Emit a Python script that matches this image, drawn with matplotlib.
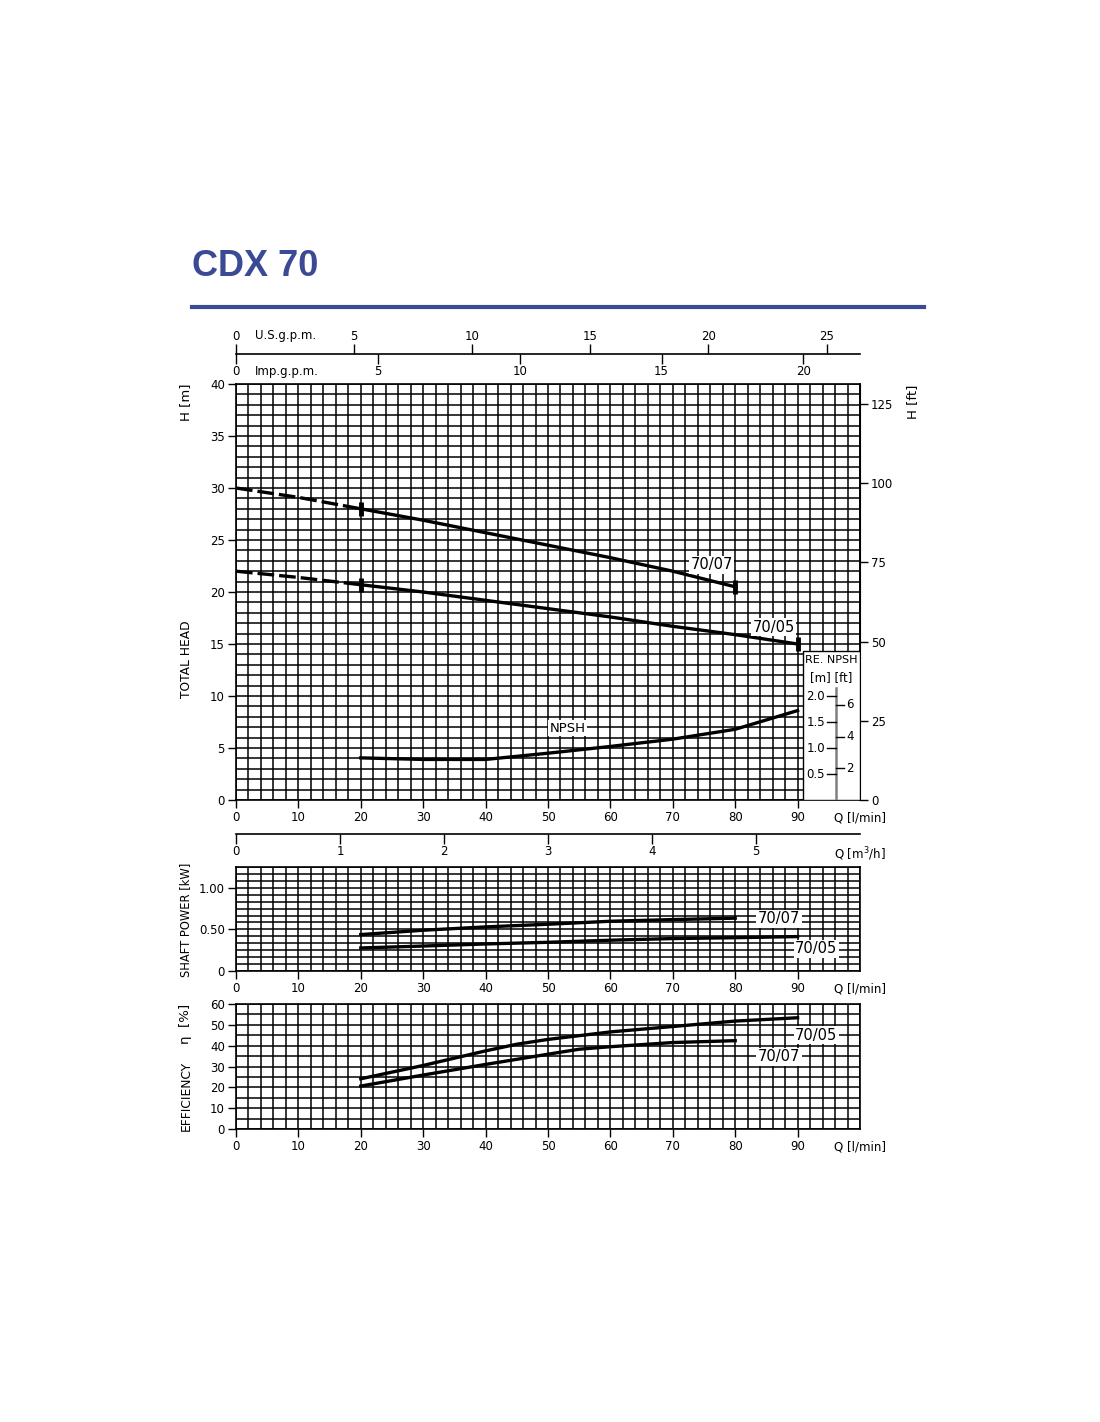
import numpy as np
import matplotlib
matplotlib.use('Agg')
import matplotlib.pyplot as plt
from matplotlib.patches import Rectangle
from matplotlib.lines import Line2D

plt.rcParams['font.family'] = ['Liberation Sans Narrow', 'DejaVu Sans']

# ---- data (Q in l/min) ----
q_h05 = [0, 10, 20, 30, 40, 50, 60, 70, 80, 90]
h_7005 = [22.0, 21.4, 20.7, 20.0, 19.2, 18.4, 17.6, 16.7, 15.9, 15.0]
q_h07 = [0, 10, 20, 30, 40, 50, 60, 70, 80]
h_7007 = [30.0, 29.1, 28.0, 26.9, 25.7, 24.5, 23.3, 22.0, 20.5]

q_npsh = [20, 30, 40, 50, 60, 70, 80, 90]
npsh = [0.81, 0.78, 0.78, 0.90, 1.03, 1.17, 1.36, 1.72]  # [m]

q_p05 = [20, 30, 40, 50, 60, 70, 80, 90]
p_7005 = [0.277, 0.30, 0.325, 0.345, 0.37, 0.39, 0.40, 0.414]
q_p07 = [20, 30, 40, 50, 60, 70, 80]
p_7007 = [0.438, 0.49, 0.53, 0.562, 0.598, 0.618, 0.635]

q_e05 = [20, 30, 40, 45, 50, 60, 70, 80, 90]
eff_7005 = [24.1, 30.5, 37.5, 40.7, 43.0, 46.6, 49.2, 51.8, 53.4]
q_e07 = [20, 30, 40, 50, 55, 60, 70, 80]
eff_7007 = [20.6, 25.9, 31.0, 35.9, 38.3, 39.5, 41.5, 42.4]

usgpm_ticks = [0, 5, 10, 15, 20, 25]
impgpm_ticks = [0, 5, 10, 15, 20]
m3h_ticks = [0, 1, 2, 3, 4, 5]

W, H = 1100, 1422
BLUE = '#3b4a94'
LW = 2.4
LPM_PER_USG = 3.78541
LPM_PER_IMP = 4.54609


def fx(px):
    return px / W


def fy(py):
    return 1 - py / H


def box(left, top, right, bottom):
    return [fx(left), fy(bottom), fx(right) - fx(left), (bottom - top) / H]


def grid_axes(ax, ymax, ymajor, yminor, ylabels=None):
    ax.set_xlim(0, 100)
    ax.set_ylim(0, ymax)
    ax.set_xticks(np.arange(0, 101, 10))
    ax.set_xticklabels([str(v) for v in range(0, 100, 10)] + ['Q [l/min]'])
    ax.xaxis.get_major_ticks()[-1].tick1line.set_visible(False)
    ax.set_xticks(np.arange(0, 101, 2), minor=True)
    ax.set_yticks(ymajor)
    if ylabels is not None:
        ax.set_yticklabels(ylabels)
    ax.set_yticks(yminor, minor=True)
    ax.grid(which='both', color='black', lw=1.1)
    ax.set_axisbelow(True)
    ax.tick_params(which='major', direction='out', length=6, width=1, pad=2, labelsize=8.5)
    ax.tick_params(which='minor', length=0)
    for s in ax.spines.values():
        s.set_linewidth(1.2)


def curve_label(ax, x, y, txt, size=10.5):
    ax.text(x, y, txt, ha='center', va='center', fontsize=size, family='DejaVu Sans',
            bbox=dict(fc='white', ec='none', pad=1), zorder=6)


fig = plt.figure(figsize=(W / 100, H / 100), dpi=100)

# title
fig.text(fx(192), fy(266), 'CDX 70', fontsize=26, weight='bold', color=BLUE,
         family='Liberation Sans', ha='left', va='center')
fig.add_artist(Line2D([fx(192), fx(924)], [fy(307), fy(307)], lw=3, color=BLUE))

# ---- main head chart ----
ax = fig.add_axes(box(236, 384, 860, 800))
grid_axes(ax, 40, np.arange(0, 41, 5), np.arange(0, 41, 1))

for q, h in [(q_h07, h_7007), (q_h05, h_7005)]:
    ax.plot(q[:3], h[:3], color='black', lw=LW, dashes=(5, 1.5), zorder=4)
    ax.plot(q[2:], h[2:], color='black', lw=LW, zorder=4, solid_capstyle='butt')
    ax.plot([q[2], q[-1]], [h[2], h[-1]], ls='none', marker='|', ms=10, mew=3.5,
            color='black', zorder=5)

ax.plot(q_npsh, [5 * v for v in npsh], color='black', lw=LW, zorder=4)

curve_label(ax, 76.2, 22.6, '70/07')
curve_label(ax, 86.2, 16.6, '70/05')
curve_label(ax, 53.1, 6.9, 'NPSH', size=9.5)

# NPSH scale box (NPSH plotted 5x on the head scale)
ax.add_patch(Rectangle((90.8, 0), 9.2, 14.3, fc='white', ec='black', lw=1, zorder=3))
ax.text(95.4, 13.45, 'RE. NPSH', ha='center', va='center', fontsize=8, zorder=6)
ax.text(95.4, 11.8, '[m] [ft]', ha='center', va='center', fontsize=8.5, zorder=6)
ax.plot([96.1, 96.1], [0, 10.8], color='gray', lw=1.8, zorder=5)
for v in [0.5, 1.0, 1.5, 2.0]:
    ax.plot([94.65, 96.1], [5 * v, 5 * v], color='black', lw=1, zorder=5)
    ax.text(94.4, 5 * v, '%.1f' % v, ha='right', va='center', fontsize=8.5, zorder=6)
for f in [2, 4, 6]:
    y = 5 * f * 0.3048
    ax.plot([96.1, 97.4], [y, y], color='black', lw=1, zorder=5)
    ax.text(97.8, y, str(f), ha='left', va='center', fontsize=8.5, zorder=6)

sec = ax.secondary_yaxis('right', functions=(lambda m: m / 0.3048, lambda f: f * 0.3048))
sec.set_yticks(range(0, 126, 25))
sec.tick_params(direction='out', length=6, width=1, pad=2, labelsize=8.5)

# ---- gpm scales above ----
ax_g = fig.add_axes(box(236, 354, 860, 354.05))
ax_g.set_xlim(0, 100 / LPM_PER_IMP)
ax_g.set_xticks(impgpm_ticks)
ax_g.set_yticks([])
for s in ['top', 'left', 'right']:
    ax_g.spines[s].set_visible(False)
ax_g.spines['bottom'].set_linewidth(1.2)
ax_g.tick_params(direction='out', length=7, width=1, pad=1, labelsize=8.5)
sec_g = ax_g.secondary_xaxis('top', functions=(lambda x: x * LPM_PER_IMP / LPM_PER_USG,
                                               lambda x: x * LPM_PER_USG / LPM_PER_IMP))
sec_g.set_xticks(usgpm_ticks)
sec_g.spines['top'].set_visible(False)
sec_g.tick_params(direction='out', length=7, width=1, pad=1, labelsize=8.5)
fig.text(fx(255), fy(336), 'U.S.g.p.m.', fontsize=8.5, ha='left', va='center')
fig.text(fx(255), fy(372), 'Imp.g.p.m.', fontsize=8.5, ha='left', va='center')

# ---- m3/h scale ----
ax_m = fig.add_axes(box(236, 834, 860, 834.05))
ax_m.set_xlim(0, 6)
ax_m.set_xticks(m3h_ticks + [6])
ax_m.set_xticklabels([str(v) for v in m3h_ticks] + ['Q [m$^3$/h]'])
ax_m.xaxis.get_major_ticks()[-1].tick1line.set_visible(False)
ax_m.set_yticks([])
for s in ['top', 'left', 'right']:
    ax_m.spines[s].set_visible(False)
ax_m.spines['bottom'].set_linewidth(1.2)
ax_m.tick_params(direction='out', length=7, width=1, pad=1, labelsize=8.5)

# ---- shaft power ----
ax_p = fig.add_axes(box(236, 867, 860, 971))
grid_axes(ax_p, 1.25, [0, 0.5, 1.0], np.arange(0, 1.2501, 1 / 12), ['0', '0.50', '1.00'])
ax_p.plot(q_p07, p_7007, color='black', lw=LW, zorder=4)
ax_p.plot(q_p05, p_7005, color='black', lw=LW, zorder=4)
curve_label(ax_p, 87, 0.627, '70/07')
curve_label(ax_p, 93, 0.265, '70/05')

# ---- efficiency ----
ax_e = fig.add_axes(box(236, 1004, 860, 1129))
grid_axes(ax_e, 60, np.arange(0, 61, 10), np.arange(0, 61, 5))
ax_e.plot(q_e05, eff_7005, color='black', lw=LW, zorder=4)
ax_e.plot(q_e07, eff_7007, color='black', lw=LW, zorder=4)
curve_label(ax_e, 93, 45.1, '70/05')
curve_label(ax_e, 87, 34.6, '70/07')

# axis titles
for x, y, t, s in [(186, 402, 'H [m]', 9.5), (186, 659, 'TOTAL HEAD', 8.8),
                   (186, 920, 'SHAFT POWER [kW]', 8.3), (186, 1024, '\u03b7  [%]', 9.5),
                   (186, 1096, 'EFFICIENCY', 8.8), (913, 402, 'H [ft]', 9.5)]:
    fig.text(fx(x), fy(y), t, rotation=90, ha='center', va='center', fontsize=s)

fig.savefig('out.png', dpi=100)
